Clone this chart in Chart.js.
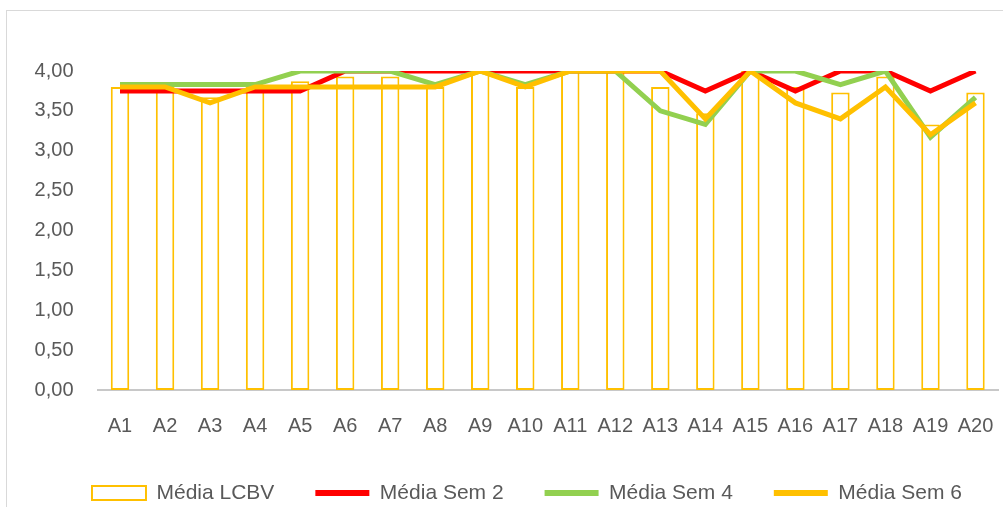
<!DOCTYPE html>
<html>
<head>
<meta charset="utf-8">
<script src="https://cdn.jsdelivr.net/npm/chart.js@4.4.1/dist/chart.umd.min.js"></script>
<style>
    html, body { margin: 0; padding: 0; background: #fff; }
    #wrap { position: relative; width: 1003px; height: 507px; }
    /* Cropped Excel chart frame: only the left and top edges show. */
    #frame { position: absolute; left: 6px; top: 10px; right: 0; bottom: 0;
             border-left: 1px solid #d9d9d9; border-top: 1px solid #d9d9d9; pointer-events: none; }
    canvas { display: block; }
</style>
</head>
<body>
<div id="wrap">
    <canvas id="chart" width="1003" height="507"></canvas>
    <div id="frame"></div>
</div>
<script>
const categories = ['A1', 'A2', 'A3', 'A4', 'A5', 'A6', 'A7', 'A8', 'A9', 'A10',
    'A11', 'A12', 'A13', 'A14', 'A15', 'A16', 'A17', 'A18', 'A19', 'A20'];

const mediaLcbv = [3.8, 3.8, 3.67, 3.8, 3.87, 3.93, 3.93, 3.8, 4, 3.8,
    4, 4, 3.8, 3.47, 4, 3.8, 3.73, 3.93, 3.33, 3.73];
const mediaSem2 = [3.75, 3.75, 3.75, 3.75, 3.75, 4, 4, 4, 4, 4,
    4, 4, 4, 3.75, 4, 3.75, 4, 4, 3.75, 4];
const mediaSem4 = [3.83, 3.83, 3.83, 3.83, 4, 4, 4, 3.83, 4, 3.83,
    4, 4, 3.5, 3.33, 4, 4, 3.83, 4, 3.17, 3.67];
const mediaSem6 = [3.8, 3.8, 3.6, 3.8, 3.8, 3.8, 3.8, 3.8, 4, 3.8,
    4, 4, 4, 3.4, 4, 3.6, 3.4, 3.8, 3.2, 3.6];

const yTicks = { min: 0, max: 4, step: 0.5 };

Chart.defaults.font.family = "'Liberation Sans', Arial, sans-serif";
Chart.defaults.font.size = 20;
Chart.defaults.color = '#595959';

const lineSeries = (label, data, color, order) => ({
    type: 'line',
    label,
    data,
    borderColor: color,
    backgroundColor: color,
    borderWidth: 5,
    pointRadius: 0,
    tension: 0,
    order,
});

// Excel's legend sits a little right of the canvas centre; nudge it over.
const legendShift = {
    id: 'legendShift',
    afterLayout(chart) {
        chart.legend.left += 28;
        chart.legend.right += 28;
    },
};

new Chart(document.getElementById('chart'), {
    data: {
        labels: categories,
        datasets: [
            {
                type: 'bar',
                label: 'Média LCBV',
                data: mediaLcbv,
                backgroundColor: '#FFFFFF',
                borderColor: '#FFC000',
                borderWidth: 2,
                borderSkipped: false,
                categoryPercentage: 1,
                barPercentage: 0.41,
                order: 4,
            },
            lineSeries('Média Sem 2', mediaSem2, '#FF0000', 3),
            lineSeries('Média Sem 4', mediaSem4, '#92D050', 2),
            // Last series sits on top, as in Excel.
            lineSeries('Média Sem 6', mediaSem6, '#FFC000', 1),
        ],
    },
    plugins: [legendShift],
    options: {
        responsive: false,
        animation: false,
        events: [],
        layout: { padding: { left: 0, right: 5, top: 71, bottom: 0 } },
        scales: {
            x: {
                // Invisible tick length pushes the labels down without the
                // large ticks.padding eating into the right edge.
                grid: { display: false, drawTicks: true, tickLength: 21 },
                border: { color: '#C8C8C8', width: 2 },
                ticks: { padding: 3, maxRotation: 0, autoSkip: false },
                afterFit: (scale) => { scale.height = 51.5; },
            },
            y: {
                min: yTicks.min,
                max: yTicks.max,
                grid: { display: false, drawTicks: false },
                border: { display: false },
                ticks: {
                    stepSize: yTicks.step,
                    padding: 24,
                    callback: (value) => value.toFixed(2).replace('.', ','),
                },
                afterFit: (scale) => { scale.width = 97.5; },
            },
        },
        plugins: {
            tooltip: { enabled: false },
            legend: {
                position: 'bottom',
                maxHeight: 65.5,
                labels: {
                    usePointStyle: true,
                    pointStyleWidth: 54,
                    boxHeight: 14,
                    padding: 41,
                    font: { size: 21 },
                    color: '#595959',
                    // Bar shows as an outlined box, lines as short thick strokes.
                    generateLabels: (chart) => chart.data.datasets.map((ds, i) => ({
                        text: ds.label,
                        datasetIndex: i,
                        fillStyle: ds.type === 'bar' ? '#FFFFFF' : ds.borderColor,
                        strokeStyle: ds.borderColor,
                        lineWidth: ds.type === 'bar' ? 2 : 6,
                        pointStyle: ds.type === 'bar' ? 'rect' : 'line',
                        fontColor: '#595959',
                        hidden: false,
                    })),
                },
            },
        },
    },
});
</script>
</body>
</html>
